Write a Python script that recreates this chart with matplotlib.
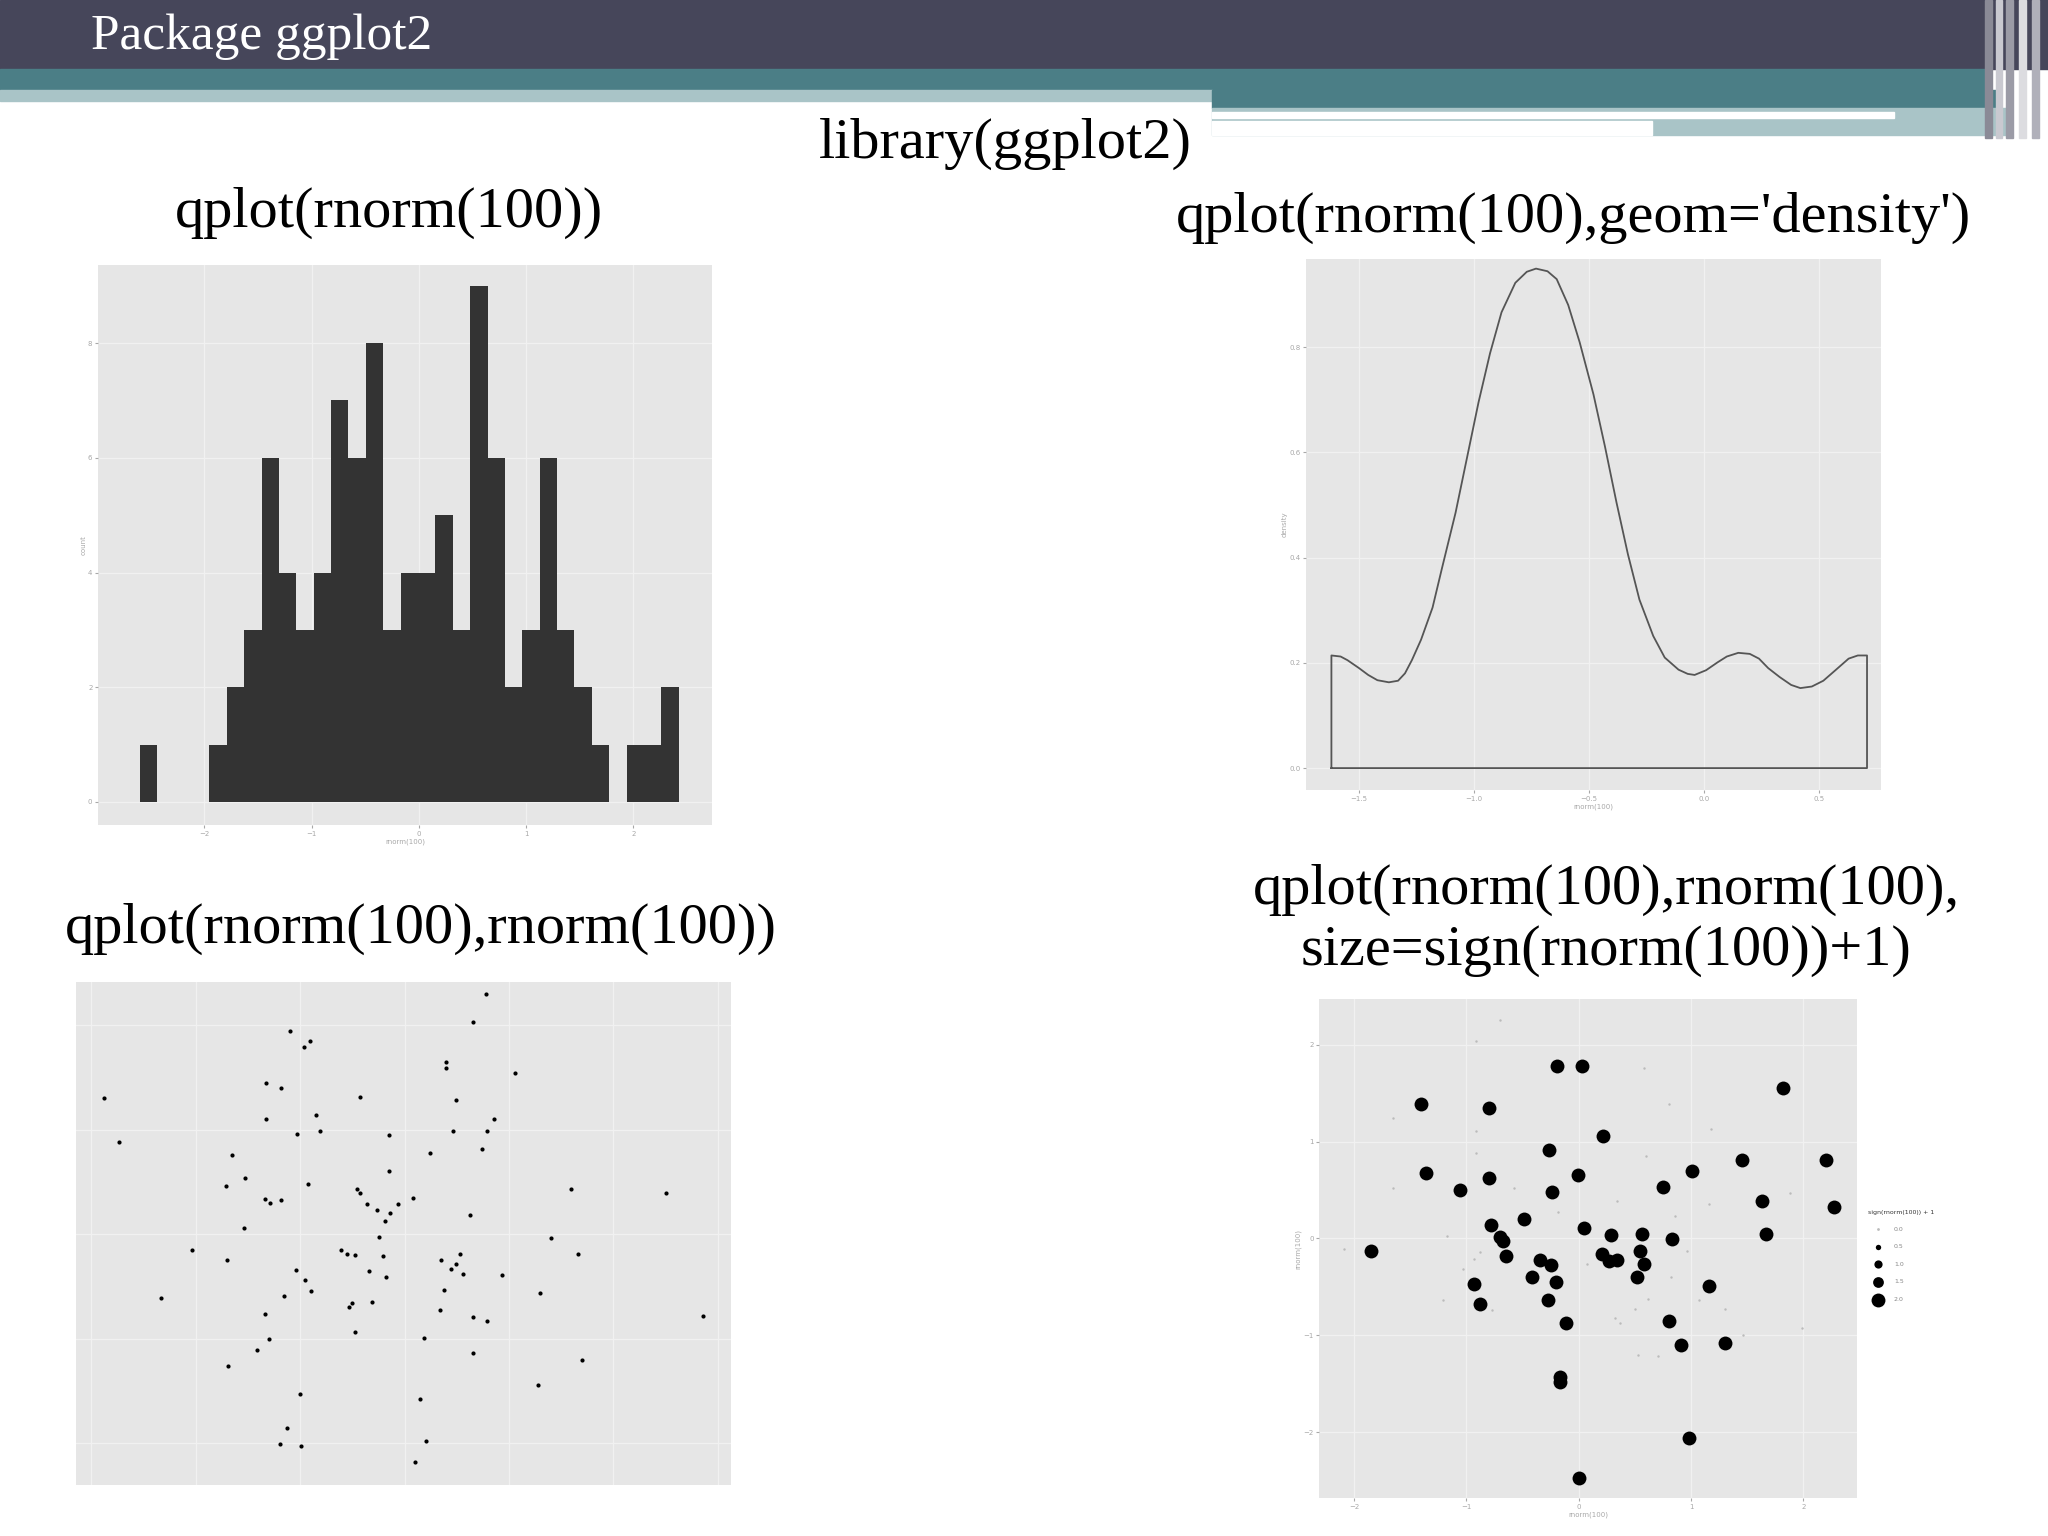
import numpy as np
import matplotlib
matplotlib.use("Agg")
import matplotlib.pyplot as plt
from matplotlib.patches import Rectangle

# slide layout was measured on a 1568 x 1176 view of the reference
W, H = 1568.0, 1176.0

# --- data ---
hist_start = -2.60
hist_width = 0.162
hist_counts = [1, 0, 0, 0, 1, 2, 3, 6, 4, 3, 4, 7, 6, 8, 3, 4, 4, 5, 3, 9, 6, 2, 3, 6, 3, 2, 1, 0, 1, 1, 2]

dens_x = [-1.62, -1.58, -1.55, -1.50, -1.46, -1.42, -1.37, -1.33, -1.30, -1.27, -1.23, -1.18, -1.14, -1.08,
          -1.03, -0.98, -0.93, -0.88, -0.82, -0.77, -0.73, -0.68, -0.64, -0.59, -0.54, -0.48,
          -0.43, -0.38, -0.33, -0.28, -0.22, -0.17, -0.11, -0.07, -0.04, 0.01, 0.06, 0.10, 0.15, 0.20, 0.24,
          0.28, 0.33, 0.38, 0.42, 0.47, 0.52, 0.57, 0.63, 0.67, 0.71]
dens_y = [0.214, 0.212, 0.205, 0.190, 0.177, 0.167, 0.163, 0.166, 0.180, 0.205, 0.244, 0.305, 0.378, 0.485,
          0.590, 0.695, 0.788, 0.866, 0.922, 0.943, 0.949, 0.944, 0.929, 0.880, 0.809, 0.710,
          0.611, 0.505, 0.406, 0.320, 0.251, 0.210, 0.187, 0.179, 0.177, 0.186, 0.201, 0.212, 0.219, 0.217, 0.208,
          0.190, 0.173, 0.158, 0.152, 0.155, 0.166, 0.185, 0.208, 0.214, 0.214]

sc_x = [0.78, 0.65, -1.10, -0.91, -0.96, 0.40, 0.40, 1.06, -1.33, -1.18, -2.88, -0.43, 0.49, -0.85, -1.33,
        0.86, 0.79, 0.46, -1.03, -0.81, -2.74, -0.15, 0.74, 0.24, -1.65, -0.15, -1.53, -1.71, -0.93, 1.59,
        2.50, -0.46, -0.43, -1.34, -1.29, -1.18, 0.08, -0.36, -0.06, -0.26, 0.63, -0.14, -1.54, -0.19, -0.25,
        1.40, -2.04, -0.61, -0.55, 0.53, -0.48, 1.66, -0.21, 0.35, 0.49, 0.44, -1.70, 0.56, -1.04, -0.34,
        -0.18, -0.95, 0.93, -0.90, 0.38, -2.33, -1.16, 1.30, -0.50, -0.31, -0.53, -1.34, 0.34, 0.65, 0.79,
        2.86, -0.48, 0.19, -1.30, -1.41, 0.65, -1.69, 1.70, 1.28, -1.00, 0.15, -1.13, -1.19, -0.99, 0.20, 0.10]
sc_y = [2.30, 2.03, 1.94, 1.85, 1.79, 1.65, 1.59, 1.54, 1.45, 1.40, 1.30, 1.31, 1.28, 1.14, 1.10,
        1.10, 0.99, 0.99, 0.96, 0.99, 0.88, 0.95, 0.81, 0.78, 0.76, 0.60, 0.54, 0.46, 0.48, 0.43,
        0.39, 0.43, 0.39, 0.34, 0.30, 0.33, 0.35, 0.29, 0.29, 0.23, 0.18, 0.20, 0.06, 0.13, -0.03,
        -0.04, -0.15, -0.15, -0.19, -0.19, -0.20, -0.19, -0.21, -0.25, -0.29, -0.33, -0.25, -0.38, -0.34, -0.35,
        -0.41, -0.44, -0.39, -0.54, -0.53, -0.61, -0.59, -0.56, -0.66, -0.65, -0.70, -0.76, -0.73, -0.79, -0.83,
        -0.78, -0.94, -0.99, -1.00, -1.11, -1.14, -1.26, -1.20, -1.44, -1.53, -1.58, -1.85, -2.01, -2.03, -1.98, -2.18]

big_x = [-0.19, 0.03, 1.82, -1.40, -0.80, 0.22, -0.26, 1.45, 2.20, -1.36, -0.01, 1.01, -0.80, -1.06, -0.24,
         0.75, 1.63, 2.27, -0.49, -0.78, 0.05, -0.70, -0.67, 0.29, 0.56, 1.67, 0.83, -1.85, -0.65, 0.55,
         0.21, 0.27, 0.34, -0.34, -0.25, 0.58, -0.42, -0.20, 0.52, -0.93, 1.16, -0.88, -0.27, -0.11, 0.80,
         0.91, 1.30, -0.17, -0.17, 0.98, 0.00]
big_y = [1.78, 1.78, 1.55, 1.39, 1.35, 1.06, 0.91, 0.81, 0.81, 0.68, 0.66, 0.70, 0.62, 0.50, 0.48,
         0.53, 0.39, 0.32, 0.20, 0.14, 0.11, 0.02, -0.03, 0.04, 0.05, 0.05, -0.01, -0.13, -0.18, -0.13,
         -0.16, -0.23, -0.22, -0.22, -0.27, -0.26, -0.40, -0.45, -0.40, -0.47, -0.49, -0.68, -0.64, -0.87, -0.85,
         -1.10, -1.08, -1.43, -1.48, -2.06, -2.47]
small_x = [-0.70, -0.91, 0.58, 0.80, -1.65, -0.91, 1.18, -0.91, 0.60, -1.65, -0.58, 0.34, 1.16, 1.88, 0.86,
           -0.18, -1.17, -2.09, -0.88, -0.93, -1.03, 0.96, 0.82, 0.07, -1.21, -0.77, 0.62, 1.07, 0.50, 1.30,
           0.32, 0.37, 1.99, 1.46, 0.53, 0.71]
small_y = [2.26, 2.04, 1.76, 1.39, 1.24, 1.11, 1.13, 0.88, 0.85, 0.52, 0.52, 0.39, 0.36, 0.47, 0.23,
           0.27, 0.03, -0.11, -0.14, -0.21, -0.32, -0.13, -0.40, -0.26, -0.64, -0.74, -0.62, -0.63, -0.73, -0.73,
           -0.82, -0.87, -0.92, -1.00, -1.20, -1.21]
legend_vals = ["0.0", "0.5", "1.0", "1.5", "2.0"]

SERIF = ["Liberation Serif", "DejaVu Serif"]
PANEL = "#e6e6e6"
TICK = "#a8a8a8"
TITLE_SIZE = 42


def rect(x0, y0, x1, y1):
    return [x0 / W, 1 - y1 / H, (x1 - x0) / W, (y1 - y0) / H]


def ggpanel(ax, xt, yt, xlabel, ylabel):
    ax.set_facecolor(PANEL)
    for s in ax.spines.values():
        s.set_visible(False)
    ax.set_xticks(xt)
    ax.set_yticks(yt)
    ax.grid(True, color="#f1f1f1", linewidth=0.9)
    ax.set_axisbelow(True)
    ax.tick_params(colors=TICK, labelsize=5, length=2, pad=2)
    ax.set_xlabel(xlabel, color=TICK, fontsize=5, labelpad=1)
    ax.set_ylabel(ylabel, color=TICK, fontsize=5, labelpad=1)


fig = plt.figure(figsize=(20.48, 15.36), dpi=100)
fig.patch.set_facecolor("white")

# --- slide header ---
bg = fig.add_axes([0, 0, 1, 1])
bg.set_xlim(0, W)
bg.set_ylim(H, 0)
bg.axis("off")
bg.add_patch(Rectangle((0, 0), W, 53, color="#46465a"))
bg.add_patch(Rectangle((0, 53), 1520, 16, color="#4b7e86"))
bg.add_patch(Rectangle((0, 69), 928, 8, color="#a9c4c7"))
bg.add_patch(Rectangle((928, 69), 600, 14, color="#4b7e86"))
bg.add_patch(Rectangle((928, 83), 610, 20, color="#a9c4c7"))
bg.add_patch(Rectangle((928, 86), 522, 4, color="white"))
bg.add_patch(Rectangle((928, 93), 337, 10, color="white"))
for xs, c in [(1520, "#8a8a96"), (1528, "#c9c9d0"), (1536, "#9b9ba6"), (1546, "#dcdce0"), (1556, "#b0b0ba")]:
    bg.add_patch(Rectangle((xs, 0), 5, 106, color=c))
bg.text(70, 28, "Package ggplot2", color="white", fontsize=37, family=SERIF, va="center", ha="left")
bg.text(770, 110, "library(ggplot2)", fontsize=TITLE_SIZE, family=SERIF, va="center", ha="center")
bg.text(298, 163, "qplot(rnorm(100))", fontsize=TITLE_SIZE, family=SERIF, va="center", ha="center")
bg.text(1205, 167, "qplot(rnorm(100),geom='density')", fontsize=TITLE_SIZE, family=SERIF, va="center", ha="center")
bg.text(322, 711, "qplot(rnorm(100),rnorm(100))", fontsize=TITLE_SIZE, family=SERIF, va="center", ha="center")
bg.text(1230, 681, "qplot(rnorm(100),rnorm(100),", fontsize=TITLE_SIZE, family=SERIF, va="center", ha="center")
bg.text(1230, 728, "size=sign(rnorm(100))+1)", fontsize=TITLE_SIZE, family=SERIF, va="center", ha="center")

# --- histogram ---
ax1 = fig.add_axes(rect(75, 203, 545, 632))
edges = hist_start + hist_width * np.arange(len(hist_counts))
ax1.bar(edges, hist_counts, width=hist_width, align="edge", color="#333333", linewidth=0)
ax1.set_xlim(-2.99, 2.73)
ax1.set_ylim(-0.41, 9.36)
ggpanel(ax1, [-2, -1, 0, 1, 2], [0, 2, 4, 6, 8], "rnorm(100)", "count")

# --- density ---
ax2 = fig.add_axes(rect(1000, 198, 1440, 605))
px = [dens_x[0]] + dens_x + [dens_x[-1], dens_x[0]]
py = [0] + dens_y + [0, 0]
ax2.plot(px, py, color="#555555", linewidth=1.3)
ax2.set_xlim(-1.73, 0.77)
ax2.set_ylim(-0.042, 0.968)
ggpanel(ax2, [-1.5, -1.0, -0.5, 0.0, 0.5], [0.0, 0.2, 0.4, 0.6, 0.8], "rnorm(100)", "density")

# --- scatter ---
ax3 = fig.add_axes(rect(58, 752, 560, 1137))
ax3.scatter(sc_x, sc_y, s=9, color="black", linewidths=0)
ax3.set_xlim(-3.15, 3.13)
ax3.set_ylim(-2.40, 2.41)
ggpanel(ax3, [-3, -2, -1, 0, 1, 2, 3], [-2, -1, 0, 1, 2], "", "")
ax3.tick_params(labelcolor="none", length=0)

# --- sized scatter ---
ax4 = fig.add_axes(rect(1010, 765, 1422, 1147))
ax4.scatter(small_x, small_y, s=3, color="#bbbbbb", linewidths=0)
ax4.scatter(big_x, big_y, s=100, color="black", linewidths=0)
ax4.set_xlim(-2.31, 2.48)
ax4.set_ylim(-2.68, 2.47)
ggpanel(ax4, [-2, -1, 0, 1, 2], [-2, -1, 0, 1, 2], "rnorm(100)", "rnorm(100)")

# legend for size
bg.text(1430, 928, "sign(rnorm(100)) + 1", fontsize=4.5, color="#333333", va="center")
for i, lab in enumerate(legend_vals):
    yy = 941 + i * 13.5
    bg.scatter([1438], [yy], s=[4, 15, 35, 60, 100][i], color="black" if i else "#bbbbbb", linewidths=0)
    bg.text(1450, yy, lab, fontsize=4.5, color="#888888", va="center")

fig.savefig("out.png", dpi=100)
